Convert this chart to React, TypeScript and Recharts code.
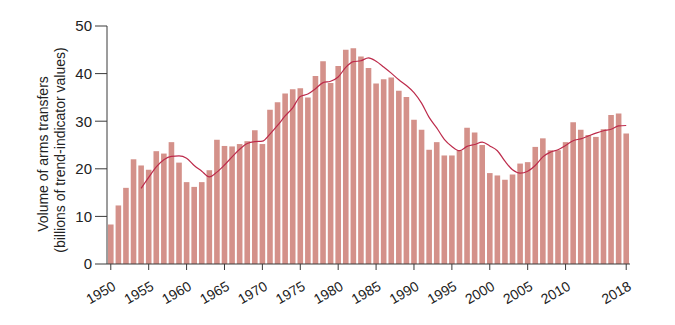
import { Bar, ComposedChart, Label, Line, XAxis, YAxis } from "recharts";

const years = [
  1950, 1951, 1952, 1953, 1954, 1955, 1956, 1957, 1958, 1959,
  1960, 1961, 1962, 1963, 1964, 1965, 1966, 1967, 1968, 1969,
  1970, 1971, 1972, 1973, 1974, 1975, 1976, 1977, 1978, 1979,
  1980, 1981, 1982, 1983, 1984, 1985, 1986, 1987, 1988, 1989,
  1990, 1991, 1992, 1993, 1994, 1995, 1996, 1997, 1998, 1999,
  2000, 2001, 2002, 2003, 2004, 2005, 2006, 2007, 2008, 2009,
  2010, 2011, 2012, 2013, 2014, 2015, 2016, 2017, 2018,
];

// yearly volume (bars)
const volume = [
  8.3, 12.3, 16.0, 22.0, 20.7, 19.8, 23.7, 23.2, 25.6, 21.3,
  17.2, 16.2, 17.2, 19.7, 26.1, 24.8, 24.7, 25.2, 25.8, 28.1,
  25.2, 32.4, 34.0, 35.8, 36.7, 36.9, 35.0, 39.5, 42.6, 38.0,
  41.6, 45.0, 45.3, 43.6, 41.2, 37.9, 38.8, 39.2, 36.4, 35.1,
  30.3, 28.2, 24.0, 25.6, 22.8, 22.8, 23.8, 28.6, 27.6, 25.0,
  19.1, 18.6, 17.7, 18.8, 21.1, 21.4, 24.6, 26.4, 23.9, 23.9,
  25.6, 29.8, 28.2, 27.1, 26.7, 28.3, 31.3, 31.6, 27.4,
];

// smoothed trend line, starts in 1954
const trend = [
  null, null, null, null, 15.9, 18.2, 20.4, 21.9, 22.6, 22.7,
  22.2, 20.7, 19.5, 18.3, 19.3, 20.8, 22.5, 24.1, 25.3, 25.7,
  25.8, 27.3, 29.1, 31.1, 32.8, 35.2, 35.7, 36.8, 38.1, 38.4,
  39.3, 41.3, 42.5, 42.7, 43.3, 42.6, 41.4, 40.1, 38.7, 37.5,
  36.0, 33.8, 30.8, 28.6, 26.2, 24.7, 23.8, 24.7, 25.1, 25.6,
  24.8, 23.8, 21.6, 19.8, 19.1, 19.5, 20.7, 22.5, 23.5, 24.0,
  24.9, 25.9, 26.3, 26.9, 27.5, 28.0, 28.3, 29.0, 29.1,
];

const xTicks = [1950, 1955, 1960, 1965, 1970, 1975, 1980, 1985, 1990, 1995, 2000, 2005, 2010, 2018];
const yTicks = [0, 10, 20, 30, 40, 50];

const data = years.map((year, i) => ({ year, volume: volume[i], trend: trend[i] }));

const font = "'Liberation Sans', Arial, sans-serif";
const axisColor = "#3a3a3a";

function YearTick({ x, y, payload }: any) {
  return (
    <g transform={`translate(${x + 6},${y + 17})`}>
      <text textAnchor="end" transform="rotate(-30)" fontSize={14} fill="#222" fontFamily={font}>
        {payload.value}
      </text>
    </g>
  );
}

function AxisTitle() {
  return (
    <g fontFamily={font} fontSize={14} fill="#222">
      <text transform="translate(44,154) rotate(-90)" textAnchor="middle" dominantBaseline="middle">
        Volume of arms transfers
      </text>
      <text transform="translate(61,150) rotate(-90)" textAnchor="middle" dominantBaseline="middle">
        (billions of trend-indicator values)
      </text>
    </g>
  );
}

export default function App() {
  return (
    <div style={{ position: "absolute", left: 0, top: 0, width: 675, height: 325, background: "#fff" }}>
      <ComposedChart width={675} height={325} data={data} margin={{ top: 26, right: 45, bottom: 0, left: 0 }}>
        <XAxis
          dataKey="year"
          ticks={xTicks}
          interval={0}
          height={61}
          tickSize={6}
          tick={<YearTick />}
          axisLine={{ stroke: axisColor }}
          tickLine={{ stroke: axisColor }}
        />
        <YAxis
          domain={[0, 50]}
          ticks={yTicks}
          width={107}
          tickSize={12}
          tickMargin={3}
          axisLine={{ stroke: axisColor }}
          tickLine={{ stroke: axisColor }}
          tick={{ fill: "#222", fontSize: 15, fontFamily: font }}
        >
          <Label content={<AxisTitle />} />
        </YAxis>
        <Bar dataKey="volume" fill="#d4918a" barSize={5.6} isAnimationActive={false} />
        <Line
          type="monotone"
          dataKey="trend"
          stroke="#bd2b4b"
          strokeWidth={1.2}
          dot={false}
          activeDot={false}
          isAnimationActive={false}
        />
      </ComposedChart>
    </div>
  );
}
